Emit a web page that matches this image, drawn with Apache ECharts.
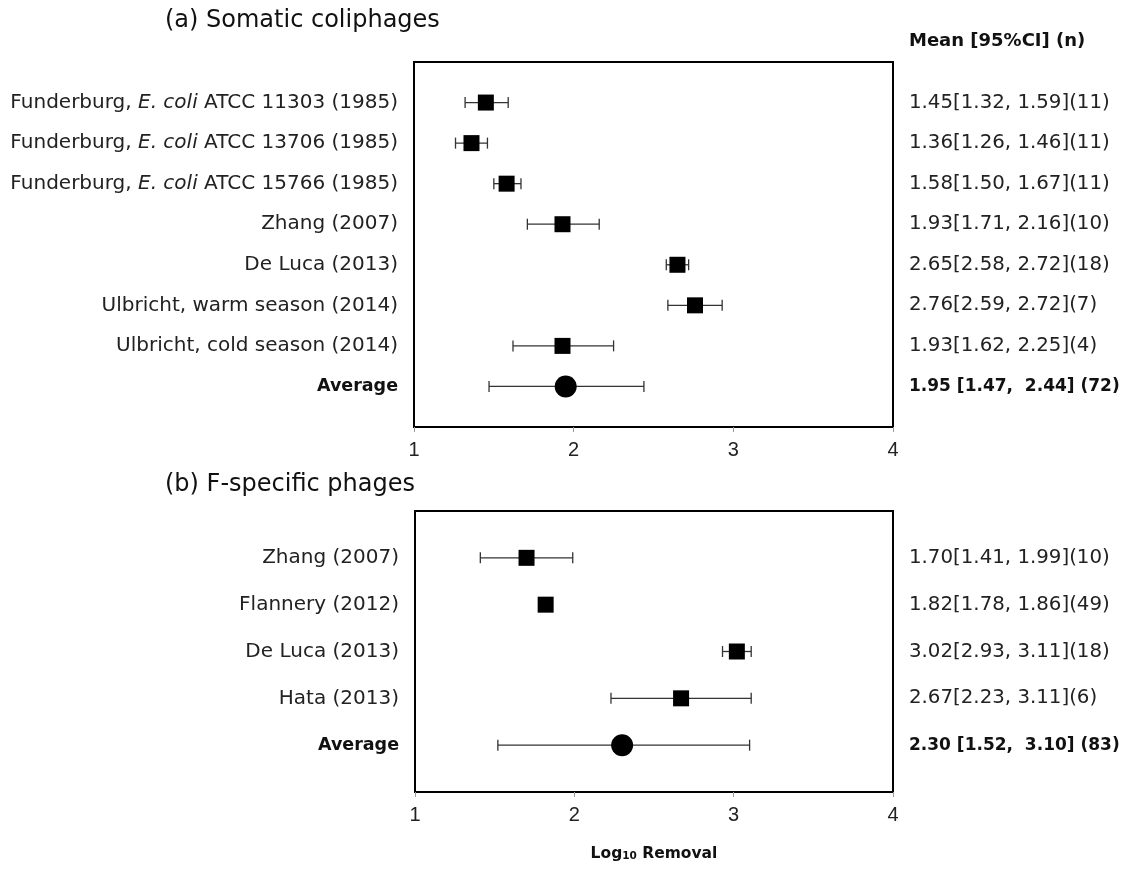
<!DOCTYPE html>
<html>
<head>
<meta charset="utf-8">
<script src="https://cdn.jsdelivr.net/npm/echarts@6/dist/echarts.min.js"></script>
<style>
html,body{margin:0;padding:0;background:#fff;}
#c{width:1131px;height:873px;}
</style>
</head>
<body>
<div id="c"></div>
<script>
// ---------- Data ----------
const studiesA = [
  "Funderburg, |E. coli| ATCC 11303 (1985)",
  "Funderburg, |E. coli| ATCC 13706 (1985)",
  "Funderburg, |E. coli| ATCC 15766 (1985)",
  "Zhang (2007)",
  "De Luca (2013)",
  "Ulbricht, warm season (2014)",
  "Ulbricht, cold season (2014)",
  "Average"
];
const meanA = [1.45, 1.36, 1.58, 1.93, 2.65, 2.76, 1.93, 1.95];
const lowA  = [1.32, 1.26, 1.50, 1.71, 2.58, 2.59, 1.62, 1.47];
const highA = [1.59, 1.46, 1.67, 2.16, 2.72, 2.93, 2.25, 2.44];
const ciTextA = [
  "1.45[1.32, 1.59](11)",
  "1.36[1.26, 1.46](11)",
  "1.58[1.50, 1.67](11)",
  "1.93[1.71, 2.16](10)",
  "2.65[2.58, 2.72](18)",
  "2.76[2.59, 2.72](7)",
  "1.93[1.62, 2.25](4)",
  "1.95 [1.47,  2.44] (72)"
];

const studiesB = [
  "Zhang (2007)",
  "Flannery (2012)",
  "De Luca (2013)",
  "Hata (2013)",
  "Average"
];
const meanB = [1.70, 1.82, 3.02, 2.67, 2.30];
const lowB  = [1.41, 1.78, 2.93, 2.23, 1.52];
const highB = [1.99, 1.86, 3.11, 3.11, 3.10];
const ciTextB = [
  "1.70[1.41, 1.99](10)",
  "1.82[1.78, 1.86](49)",
  "3.02[2.93, 3.11](18)",
  "2.67[2.23, 3.11](6)",
  "2.30 [1.52,  3.10] (83)"
];

const xTicks = [1, 2, 3, 4];

// ---------- Chart ----------
const FONT = '"DejaVu Sans", "Noto Sans", sans-serif';
const TICKFONT = '"Liberation Sans", Arial, sans-serif';
const chart = echarts.init(document.getElementById('c'), null, {renderer: 'canvas'});

function leftLabel(list) {
  return function (v) {
    const s = list[v - 1];
    if (s === undefined) return '';
    if (s === 'Average') return '{b|Average}';
    const parts = s.split('|');
    if (parts.length === 3) return '{n|' + parts[0] + '}{i|' + parts[1] + '}{n|' + parts[2] + '}';
    return '{n|' + s + '}';
  };
}
function rightLabel(list) {
  return function (v) {
    const s = list[v - 1];
    if (s === undefined) return '';
    return (v === list.length ? '{b|' : '{n|') + s + '}';
  };
}
const richL = {
  n: {fontFamily: FONT, fontSize: 20, color: '#222'},
  i: {fontFamily: FONT, fontSize: 20, color: '#222', fontStyle: 'italic'},
  b: {fontFamily: FONT, fontSize: 17.5, color: '#111', fontWeight: 'bold'}
};
const richR = {
  n: {fontFamily: FONT, fontSize: 19.8, color: '#222'},
  b: {fontFamily: FONT, fontSize: 17, color: '#111', fontWeight: 'bold'}
};

function errRender(params, api) {
  const y = api.value(0), lo = api.value(1), hi = api.value(2);
  const p1 = api.coord([lo, y]);
  const p2 = api.coord([hi, y]);
  const h = 5.5;
  const st = {stroke: '#333', lineWidth: 1.3};
  return {
    type: 'group',
    children: [
      {type: 'line', shape: {x1: p1[0], y1: p1[1], x2: p2[0], y2: p2[1]}, style: st},
      {type: 'line', shape: {x1: p1[0], y1: p1[1] - h, x2: p1[0], y2: p1[1] + h}, style: st},
      {type: 'line', shape: {x1: p2[0], y1: p2[1] - h, x2: p2[0], y2: p2[1] + h}, style: st}
    ]
  };
}

function xAxisCfg(grid, withName) {
  const o = {
    type: 'value', gridIndex: grid, min: 1, max: 4, interval: 1,
    splitLine: {show: false},
    axisLine: {show: true, onZero: false, lineStyle: {color: '#000', width: 1}},
    axisTick: {show: true, length: 5, lineStyle: {color: '#999'}},
    axisLabel: {fontFamily: TICKFONT, fontSize: 20, color: '#222', margin: 13,
      formatter: function (v) { return xTicks.indexOf(v) >= 0 ? String(v) : ''; }}
  };
  if (withName) {
    o.name = '{b|Log}{s|10}{b| Removal}';
    o.nameLocation = 'middle';
    o.nameGap = 52;
    o.nameTextStyle = {
      rich: {
        b: {fontFamily: FONT, fontSize: 15.5, fontWeight: 'bold', color: '#111', verticalAlign: 'bottom', lineHeight: 18},
        s: {fontFamily: FONT, fontSize: 10.5, fontWeight: 'bold', color: '#111', verticalAlign: 'bottom', lineHeight: 12}
      }
    };
  }
  return o;
}
function yLeft(grid, max, list) {
  return {
    type: 'value', gridIndex: grid, min: 0, max: max, interval: 1, inverse: true,
    splitLine: {show: false}, axisLine: {show: false}, axisTick: {show: false},
    axisLabel: {margin: 16, formatter: leftLabel(list), rich: richL, showMinLabel: true, showMaxLabel: true}
  };
}
function yRight(grid, max, list) {
  return {
    type: 'value', gridIndex: grid, min: 0, max: max, interval: 1, inverse: true, position: 'right',
    splitLine: {show: false}, axisLine: {show: false}, axisTick: {show: false},
    axisLabel: {margin: 16, formatter: rightLabel(list), rich: richR}
  };
}

function rowsOf(n) { const r = []; for (let i = 1; i <= n; i++) r.push(i); return r; }
const rowsA = rowsOf(meanA.length), rowsB = rowsOf(meanB.length);

const option = {
  backgroundColor: '#fff',
  animation: false,
  grid: [
    {left: 414, width: 479, top: 62, height: 365, show: true, borderColor: '#000', borderWidth: 2, backgroundColor: 'transparent'},
    {left: 415, width: 478, top: 511, height: 281, show: true, borderColor: '#000', borderWidth: 2, backgroundColor: 'transparent'}
  ],
  xAxis: [xAxisCfg(0, false), xAxisCfg(1, true)],
  yAxis: [yLeft(0, 9, studiesA), yRight(0, 9, ciTextA), yLeft(1, 6, studiesB), yRight(1, 6, ciTextB)],
  graphic: [
    {type: 'text', left: 165, top: 9, style: {text: '(a) Somatic coliphages', fontFamily: FONT, fontSize: 24, fontWeight: 'normal', fill: '#111'}},
    {type: 'text', left: 165, top: 473, style: {text: '(b) F-specific phages', fontFamily: FONT, fontSize: 24, fontWeight: 'normal', fill: '#111'}},
    {type: 'text', left: 909, top: 32, style: {text: 'Mean [95%CI] (n)', fontFamily: FONT, fontSize: 18, fontWeight: 'bold', fill: '#111'}}
  ],
  series: [
    {type: 'custom', xAxisIndex: 0, yAxisIndex: 0, renderItem: errRender,
      encode: {x: [1, 2], y: 0},
      data: rowsA.map((r, i) => [r, lowA[i], highA[i]])},
    {type: 'scatter', xAxisIndex: 0, yAxisIndex: 0,
      data: rowsA.map((r, i) => [meanA[i], r]),
      symbol: (v) => v[1] === rowsA.length ? 'circle' : 'rect',
      symbolSize: (v) => v[1] === rowsA.length ? 22 : 16,
      itemStyle: {color: '#000', opacity: 1}, z: 5},
    {type: 'custom', xAxisIndex: 1, yAxisIndex: 2, renderItem: errRender,
      encode: {x: [1, 2], y: 0},
      data: rowsB.map((r, i) => [r, lowB[i], highB[i]])},
    {type: 'scatter', xAxisIndex: 1, yAxisIndex: 2,
      data: rowsB.map((r, i) => [meanB[i], r]),
      symbol: (v) => v[1] === rowsB.length ? 'circle' : 'rect',
      symbolSize: (v) => v[1] === rowsB.length ? 22 : 16,
      itemStyle: {color: '#000', opacity: 1}, z: 5}
  ]
};
chart.setOption(option);
</script>
</body>
</html>
